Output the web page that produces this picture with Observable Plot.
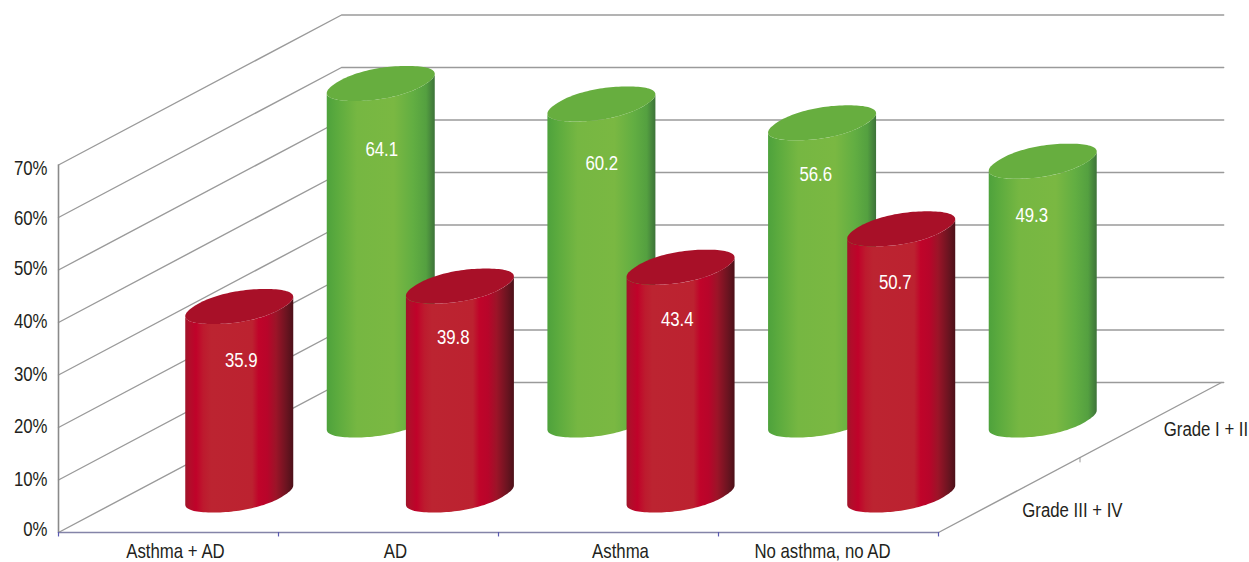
<!DOCTYPE html>
<html>
<head>
<meta charset="utf-8">
<script src="https://cdn.jsdelivr.net/npm/d3@7"></script>
<script src="https://cdn.jsdelivr.net/npm/@observablehq/plot@0.6"></script>
<style>
  html, body { margin: 0; padding: 0; background: #fff; }
  svg { display: block; }
</style>
</head>
<body>
<div id="chart"></div>
<script>
// Share of patients per grade group, in percent
const categories = ["Asthma + AD", "AD", "Asthma", "No asthma, no AD"];
const gradeLow = [64.1, 60.2, 56.6, 49.3];   // Grade I + II, back row
const gradeHigh = [35.9, 39.8, 43.4, 50.7];  // Grade III + IV, front row
const percentTicks = [0, 10, 20, 30, 40, 50, 60, 70];
const depthLabels = ["Grade III + IV", "Grade I + II"];

// Oblique projection: one unit of depth runs across the floor to the back wall.
const pxPerCategory = 220;
const pxPerPercent = 5.25;
const depthX = 283 / pxPerCategory;
const depthY = 150 / pxPerPercent;
const project = (cat, depth, value) => ({x: cat + depth * depthX, y: value + depth * depthY});

// Cylinder cross-section: a nearly true ellipse, skewed along the depth direction
const squareness = 0.9;
const barPitch = 1.003;
const bulge = (c) => Math.sign(c) * Math.pow(Math.abs(c), squareness);
const rawU = 47, rawVx = 27;
const rawX = (t) => rawU * bulge(Math.cos(t)) + rawVx * bulge(Math.sin(t));
const scan = d3.range(0, 720).map((i) => (i / 720) * Math.PI * 2);
const edge = d3.greatest(scan, rawX);
const fit = 54 / rawX(edge);
const axisU = (rawU * fit) / pxPerCategory;
const axisVx = (rawVx * fit) / pxPerCategory;
const axisVy = 17.5 / pxPerPercent;
const ellipsePoint = (cat, depth, value, t) => {
  const c = project(cat * barPitch + 0.5, depth, value);
  return {
    x: c.x + axisU * bulge(Math.cos(t)) + axisVx * bulge(Math.sin(t)),
    y: c.y + axisVy * bulge(Math.sin(t))
  };
};
const arcAngles = d3.range(0, 61).map((i) => edge - (Math.PI * i) / 60);
const fullAngles = d3.range(0, 121).map((i) => (2 * Math.PI * i) / 120);

const bodyOutline = (values, depth) => values.flatMap((value, cat) => [
  ...arcAngles.map((t) => ({...ellipsePoint(cat, depth, 0, t), cat})),
  ...arcAngles.slice().reverse().map((t) => ({...ellipsePoint(cat, depth, value, t), cat}))
]);
const topOutline = (values, depth) => values.flatMap((value, cat) =>
  fullAngles.map((t) => ({...ellipsePoint(cat, depth, value, t), cat}))
);

// Cylinder shading, left to right
const redStops = [[0, "#a0142a"], [0.04, "#b20d2a"], [0.1, "#c0022a"], [0.17, "#bd1a2e"], [0.24, "#bc2431"],
  [0.62, "#bc2230"], [0.68, "#c0042a"], [0.76, "#b8052a"], [0.84, "#9c1428"], [0.94, "#6a1420"], [1, "#4c1018"]];
const greenStops = [[0, "#4ea23c"], [0.1, "#5cab3e"], [0.28, "#76b742"], [0.62, "#7ab842"],
  [0.8, "#62ae42"], [0.92, "#54a040"], [1, "#3d7339"]];

const gradient = (id, stops) => `<linearGradient id="${id}" x1="0" x2="1" y1="0" y2="0">` +
  stops.map(([o, c]) => `<stop offset="${o}" stop-color="${c}"/>`).join("") + `</linearGradient>`;
const defsMark = () => {
  const defs = document.createElementNS("http://www.w3.org/2000/svg", "defs");
  defs.innerHTML = gradient("redBody", redStops) + gradient("greenBody", greenStops);
  return defs;
};

// Wall and floor lines
const wallLines = percentTicks.flatMap((v) => [
  {...project(0, 0, v), k: v},
  {...project(0, 1, v), k: v},
  {...project(4.01, 1, v), k: v}
]);
const floorEdge = [project(0, 0, 0), project(4, 0, 0), project(4, 1, 0)];

const gridColor = "#9a9a9a";
const inkColor = "#231f20";
const font = "'Liberation Sans', sans-serif";
const textSize = 21;
const condensedWidth = 16.8;

// Small text offsets, in pixels
const categoryNudge = [7, 7, 12, -6];
const lowNudge = [[1, 12], [1, 6], [-5, -2], [-9, 1]];
const highNudge = [[2, 0], [-6, -2], [-2, -1], [-4, 0]];
const tickNudge = [-1, 1, 1, 1, 1, 0, 3, 5];

const valueLabels = (values, depth, nudge) => values.map((value, cat) => {
  const c = project(cat + 0.5, depth, value);
  return {
    x: c.x + nudge[cat][0] / pxPerCategory,
    y: c.y - 10.2 - nudge[cat][1] / pxPerPercent,
    label: value.toFixed(1)
  };
});

const plot = Plot.plot({
  width: 1249,
  height: 562,
  margin: 0,
  style: {background: "#fff", fontFamily: font},
  x: {type: "linear", domain: [-58 / pxPerCategory, (1249 - 58) / pxPerCategory], range: [0, 1249], axis: null},
  y: {type: "linear", domain: [(532 - 562) / pxPerPercent, 532 / pxPerPercent], range: [562, 0], axis: null},
  marks: [
    defsMark,
    Plot.line(wallLines, {x: "x", y: "y", z: "k", stroke: gridColor, strokeWidth: 1.4, curve: "linear"}),
    Plot.ruleX([0], {y1: 0, y2: 70, stroke: "#8a8a8a", strokeWidth: 1.6}),
    Plot.line(floorEdge.slice(1), {x: "x", y: "y", stroke: gridColor, strokeWidth: 1.4}),
    Plot.line(floorEdge.slice(0, 2), {x: "x", y: "y", stroke: "#8484a8", strokeWidth: 1.6}),
    Plot.ruleX(d3.range(0, 5), {y1: 0, y2: -0.85, stroke: "#5a5ab0", strokeWidth: 1.2}),
    Plot.line([project(4, 0.5, 0), {...project(4, 0.5, 0), y: project(4, 0.5, 0).y - 0.85}],
      {x: "x", y: "y", stroke: gridColor, strokeWidth: 1}),

    // Back row, then front row so the red cylinders overlap the green ones
    Plot.line(bodyOutline(gradeLow, 0.75), {x: "x", y: "y", z: "cat", fill: "url(#greenBody)", stroke: "none"}),
    Plot.line(topOutline(gradeLow, 0.75), {x: "x", y: "y", z: "cat", fill: "#67ae3f", stroke: "none"}),
    Plot.line(bodyOutline(gradeHigh, 0.25), {x: "x", y: "y", z: "cat", fill: "url(#redBody)", stroke: "none"}),
    Plot.line(topOutline(gradeHigh, 0.25), {x: "x", y: "y", z: "cat", fill: "#a81028", stroke: "none"}),

    Plot.text(valueLabels(gradeLow, 0.75, lowNudge), {x: "x", y: "y", text: "label", fill: "#fff", fontSize: textSize}),
    Plot.text(valueLabels(gradeHigh, 0.25, highNudge), {x: "x", y: "y", text: "label", fill: "#fff", fontSize: textSize}),

    Plot.text(percentTicks, {
      x: 0, y: (d, i) => d - tickNudge[i] / pxPerPercent, text: (d) => `${d}%`,
      textAnchor: "end", dx: -11, dy: -2, fontSize: textSize, fill: inkColor
    }),
    Plot.text(categories, {
      x: (d, i) => i + 0.5 + categoryNudge[i] / pxPerCategory,
      y: -3.62, text: (d) => d, fontSize: 20, fill: inkColor
    }),
    Plot.text([depthLabels[1]], {x: project(4, 0.75, 0).x, y: project(4, 0.75, 0).y, text: (d) => d,
      textAnchor: "start", dx: 13, dy: 9, fontSize: textSize, fill: inkColor}),
    Plot.text([depthLabels[0]], {x: project(4, 0.25, 0).x, y: project(4, 0.25, 0).y, text: (d) => d,
      textAnchor: "start", dx: 13, dy: 15, fontSize: textSize, fill: inkColor})
  ]
});
document.getElementById("chart").append(plot);

// The labels are set in a condensed cut: squeeze each text run horizontally about its anchor.
plot.querySelectorAll("text").forEach((t) => {
  const squeeze = condensedWidth / parseFloat(getComputedStyle(t).fontSize);
  t.setAttribute("transform", `${t.getAttribute("transform") || ""} scale(${squeeze.toFixed(3)},1)`);
});
</script>
</body>
</html>
